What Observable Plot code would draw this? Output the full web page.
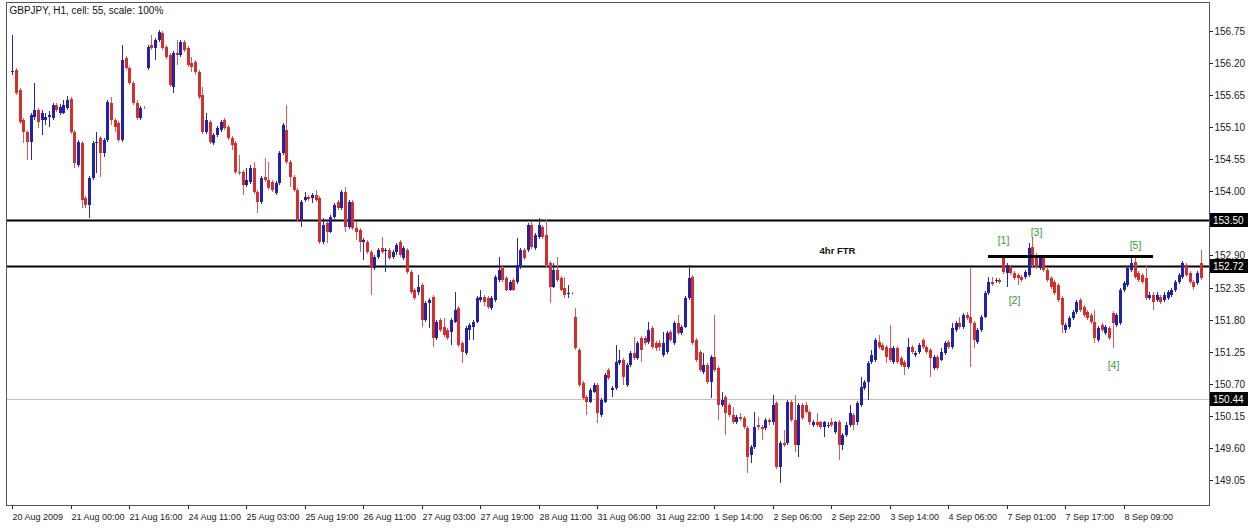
<!DOCTYPE html>
<html><head><meta charset="utf-8">
<script src="https://cdn.jsdelivr.net/npm/d3@7"></script>
<script src="https://cdn.jsdelivr.net/npm/@observablehq/plot@0.6"></script>
<style>
html,body{margin:0;padding:0;background:#fff;}
#chart svg{display:block;}
</style></head><body><div id="chart"></div>
<script>
// ---- data: hourly candles [open, high, low, close], grouped by axis-label block ----
const seg20Aug = [[156.05,156.68,156.00,156.06],[156.08,156.12,155.65,155.69],[155.74,155.77,155.16,155.19],[155.22,155.26,154.83,155.02],[155.02,155.05,154.54,154.85],[154.85,155.34,154.54,155.31],[155.28,155.86,155.22,155.40],[155.40,155.43,155.09,155.19],[155.22,155.40,154.97,155.34],[155.22,155.34,155.14,155.28],[155.28,155.38,155.10,155.31],[155.26,155.52,155.22,155.48],[155.48,155.52,155.36,155.40],[155.34,155.50,155.31,155.45],[155.34,155.57,155.33,155.48],[155.43,155.64,155.40,155.57]];
const seg21Aug00 = [[155.58,155.62,154.98,155.02],[155.02,155.05,154.40,154.49],[154.45,154.88,154.42,154.85],[154.83,154.86,153.71,153.85],[153.89,153.92,153.71,153.77],[153.77,154.26,153.54,154.23],[154.23,154.86,154.20,154.83],[154.83,155.02,154.31,154.85],[154.92,154.95,154.25,154.66],[154.66,154.92,154.59,154.88],[154.88,155.57,154.85,155.53],[155.52,155.62,155.14,155.22],[155.22,155.26,155.02,155.10],[155.17,155.21,154.85,154.88],[154.88,156.51,154.85,156.25],[156.29,156.32,156.08,156.12]];
const seg21Aug16 = [[156.12,156.15,155.82,155.86],[155.86,155.89,155.48,155.52],[155.52,155.57,155.22,155.26],[155.26,155.46,155.22,155.43],[155.45,155.47,155.42,155.44],[156.12,156.51,156.08,156.48],[156.51,156.68,156.42,156.46],[156.46,156.63,156.25,156.60],[156.60,156.77,156.56,156.73],[156.72,156.75,156.42,156.46],[156.48,156.51,156.27,156.30],[156.34,156.37,155.79,155.82],[155.79,156.41,155.69,156.37],[156.37,156.60,156.17,156.34],[156.34,156.60,156.30,156.56],[156.56,156.60,156.39,156.42]];
const seg24Aug11 = [[156.46,156.49,156.13,156.17],[156.20,156.30,156.05,156.13],[156.22,156.25,156.00,156.05],[156.05,156.08,155.58,155.62],[155.65,155.79,154.98,155.02],[155.02,155.34,154.98,155.22],[155.19,155.22,154.81,154.85],[154.83,155.00,154.80,154.97],[154.97,155.12,154.93,155.09],[155.05,155.22,155.02,155.19],[155.22,155.26,155.05,155.09],[155.10,155.14,154.88,154.92],[154.92,154.95,154.71,154.80],[154.83,154.86,154.30,154.33],[154.33,154.62,154.28,154.31],[154.33,154.37,153.94,154.11]];
const seg25Aug03 = [[154.11,154.40,154.08,154.20],[154.16,154.45,154.13,154.40],[154.40,154.50,153.95,153.99],[153.99,154.02,153.63,153.82],[153.82,154.26,153.78,154.23],[154.25,154.57,154.16,154.20],[154.20,154.50,154.02,154.06],[154.16,154.20,153.99,154.02],[153.97,154.18,153.94,154.14],[154.14,154.69,154.11,154.66],[154.66,155.17,154.62,155.14],[155.05,155.48,154.47,154.50],[154.50,154.54,154.08,154.25],[154.25,154.28,153.99,154.02],[154.02,154.06,153.47,153.51],[153.51,153.85,153.39,153.82]];
const seg25Aug19 = [[153.85,153.99,153.82,153.90],[153.90,153.94,153.83,153.87],[153.89,153.97,153.80,153.94],[153.94,154.02,153.82,153.85],[153.89,153.92,153.10,153.13],[153.13,153.54,153.10,153.42],[153.46,153.49,153.12,153.30],[153.30,153.59,153.29,153.56],[153.56,153.80,153.53,153.77],[153.82,153.85,153.68,153.71],[153.71,154.02,153.68,153.99],[153.99,154.08,153.30,153.39],[153.39,153.85,153.35,153.82],[153.82,153.85,153.34,153.37],[153.37,153.47,153.17,153.30],[153.34,153.37,152.96,153.13]];
const seg26Aug11 = [[153.13,153.20,152.82,153.17],[153.13,153.17,152.93,152.96],[152.96,152.99,152.22,152.69],[152.69,152.91,152.65,152.87],[152.87,153.03,152.84,152.99],[153.03,153.22,152.93,152.96],[152.98,153.03,152.62,152.99],[152.99,153.03,152.82,152.86],[152.87,152.99,152.84,152.96],[152.96,153.12,152.91,153.08],[153.13,153.17,152.87,152.91],[152.86,153.06,152.82,153.03],[152.99,153.03,152.58,152.62],[152.62,152.65,152.24,152.27],[152.31,152.34,152.14,152.17],[152.27,152.57,152.22,152.36]];
const seg27Aug03 = [[152.39,152.43,151.67,151.79],[151.79,152.12,151.76,152.08],[152.08,152.17,151.66,152.14],[152.19,152.22,151.33,151.49],[151.49,151.79,151.45,151.76],[151.79,151.83,151.59,151.62],[151.67,151.83,151.50,151.54],[151.62,151.66,151.45,151.49],[151.59,151.83,151.37,151.79],[151.76,152.27,151.74,151.97],[152.00,152.03,151.33,151.37],[151.40,151.43,151.06,151.25],[151.23,151.69,151.19,151.66],[151.62,151.74,151.45,151.71],[151.67,151.79,151.45,151.76],[151.76,152.20,151.74,152.17]];
const seg27Aug19 = [[152.14,152.31,152.10,152.19],[152.19,152.22,152.03,152.10],[152.17,152.20,151.98,152.02],[152.00,152.20,151.97,152.17],[152.14,152.57,152.10,152.53],[152.48,152.87,152.45,152.65],[152.69,152.72,152.45,152.48],[152.51,152.55,152.29,152.31],[152.31,152.48,152.29,152.45],[152.48,152.51,152.29,152.31],[152.45,153.20,152.41,152.74],[152.70,153.03,152.67,152.99],[152.99,153.03,152.82,152.86],[152.99,153.46,152.96,153.42],[153.42,153.49,153.01,153.05],[153.03,153.29,152.99,153.25]];
const seg28Aug11 = [[153.22,153.54,153.18,153.42],[153.39,153.42,153.18,153.22],[153.25,153.51,152.70,152.74],[152.77,152.81,152.08,152.36],[152.36,152.77,152.34,152.65],[152.65,152.87,152.45,152.48],[152.51,152.55,152.29,152.31],[152.34,152.53,152.17,152.22],[152.24,152.39,152.17,152.26],[152.26,152.28,152.23,152.25],[151.85,152.00,151.28,151.31],[151.28,151.31,150.65,150.68],[150.71,150.75,150.42,150.46],[150.47,150.51,150.16,150.39],[150.39,150.63,150.37,150.59],[150.56,150.71,150.54,150.68]];
const seg31Aug06 = [[150.68,150.71,150.03,150.20],[150.16,150.46,150.13,150.42],[150.39,150.88,150.37,150.85],[150.94,150.97,150.77,150.80],[150.59,150.66,150.47,150.63],[150.63,151.37,150.59,151.07],[151.06,151.28,151.02,151.11],[151.11,151.14,150.68,150.82],[150.68,151.06,150.65,151.02],[151.02,151.26,150.99,151.23],[151.23,151.50,151.11,151.14],[151.14,151.43,151.11,151.40],[151.49,151.52,151.07,151.28],[151.49,151.52,151.37,151.40],[151.42,151.76,151.38,151.62],[151.66,151.69,151.30,151.33]];
const seg31Aug22 = [[151.40,151.43,151.26,151.31],[151.40,151.45,151.26,151.33],[151.19,151.59,151.16,151.40],[151.25,151.61,151.21,151.57],[151.59,151.62,151.42,151.45],[151.40,151.78,151.37,151.74],[151.74,151.88,151.54,151.57],[151.57,151.71,151.54,151.67],[151.67,152.20,151.66,152.17],[152.17,152.74,152.14,152.51],[152.53,152.57,151.37,151.40],[151.45,151.49,151.07,151.11],[151.25,151.28,150.90,150.94],[150.90,151.23,150.87,151.02],[151.02,151.06,150.70,150.73],[150.73,151.19,150.46,151.16]];
const seg1Sep14 = [[151.16,151.88,150.90,150.94],[150.97,151.00,150.08,150.34],[150.34,150.56,150.30,150.42],[150.47,150.51,149.82,150.20],[150.34,150.37,150.13,150.16],[150.16,150.30,150.01,150.05],[150.05,150.16,150.01,150.13],[150.13,150.20,150.06,150.10],[150.11,150.15,149.93,149.96],[149.94,149.98,149.17,149.44],[149.48,149.65,149.34,149.62],[149.62,150.22,149.58,149.96],[149.99,150.13,149.91,149.96],[149.96,149.99,149.74,149.92],[149.94,150.11,149.91,150.08],[150.08,150.11,149.99,150.04]];
const seg2Sep06 = [[150.04,150.51,149.99,150.34],[150.37,150.41,149.24,149.27],[149.27,149.72,149.00,149.68],[149.68,149.91,149.62,149.65],[149.68,150.42,149.65,150.39],[150.39,150.42,150.05,150.08],[150.08,150.51,149.53,149.65],[149.65,150.37,149.44,150.34],[150.34,150.37,150.08,150.11],[150.34,150.39,150.18,150.22],[150.22,150.25,149.99,150.04],[149.99,150.08,149.96,150.05],[150.05,150.20,149.96,149.99],[150.04,150.06,149.92,149.96],[149.96,150.06,149.79,150.04],[149.98,150.04,149.94,149.99]];
const seg2Sep22 = [[150.04,150.11,149.96,149.99],[149.87,150.06,149.84,150.04],[150.05,150.08,149.39,149.65],[149.65,149.86,149.56,149.82],[149.82,150.04,149.79,149.99],[149.99,150.34,149.96,150.20],[150.16,150.20,149.91,149.99],[150.04,150.41,149.99,150.37],[150.34,150.82,150.30,150.65],[150.63,150.77,150.60,150.73],[150.73,151.09,150.42,151.06],[151.07,151.28,151.04,151.19],[151.11,151.49,151.07,151.45],[151.42,151.54,151.30,151.33],[151.37,151.40,151.26,151.28],[151.33,151.37,151.06,151.16]];
const seg3Sep14 = [[151.31,151.71,151.07,151.11],[151.07,151.35,151.04,151.31],[151.31,151.35,151.04,151.07],[151.14,151.18,150.99,151.02],[151.07,151.11,150.85,150.99],[150.99,151.49,150.95,151.33],[151.33,151.37,151.21,151.25],[151.19,151.26,151.16,151.23],[151.25,151.40,151.21,151.37],[151.45,151.49,151.30,151.33],[151.33,151.37,151.21,151.25],[151.28,151.31,150.82,151.14],[150.97,151.19,150.94,151.16],[151.16,151.19,150.94,150.97],[151.11,151.31,151.09,151.25],[151.23,151.43,151.19,151.40]];
const seg4Sep06 = [[151.42,151.45,151.30,151.33],[151.33,151.74,151.30,151.66],[151.62,151.78,151.59,151.74],[151.74,151.85,151.64,151.67],[151.67,151.92,151.64,151.88],[151.88,151.93,151.79,151.83],[151.85,152.69,150.99,151.74],[151.74,151.78,151.31,151.45],[151.42,151.66,151.38,151.62],[151.62,151.88,151.59,151.85],[151.85,152.29,151.82,152.26],[152.26,152.53,152.22,152.45],[152.45,152.53,152.38,152.41],[152.46,152.51,152.43,152.48],[152.48,152.51,152.41,152.45],[152.86,152.91,152.58,152.62]];
const seg7Sep01 = [[152.60,152.77,152.36,152.74],[152.70,152.74,152.57,152.60],[152.60,152.63,152.48,152.51],[152.57,152.60,152.39,152.51],[152.53,152.57,152.45,152.48],[152.53,152.65,152.50,152.62],[152.57,153.12,152.53,153.03],[153.05,153.20,152.70,152.74],[152.91,152.94,152.67,152.70],[152.69,152.91,152.65,152.87],[152.87,152.91,152.62,152.65],[152.65,152.69,152.45,152.48],[152.51,152.55,152.33,152.36],[152.45,152.48,152.22,152.26],[152.39,152.43,152.10,152.14],[152.17,152.20,151.57,151.71]];
const seg7Sep17 = [[151.62,151.74,151.57,151.71],[151.67,151.86,151.64,151.83],[151.83,151.97,151.79,151.93],[151.93,152.14,151.90,152.10],[152.14,152.17,151.93,151.97],[152.02,152.05,151.85,151.88],[151.93,151.97,151.79,151.83],[151.88,151.92,151.73,151.76],[151.76,151.97,151.40,151.49],[151.45,151.69,151.42,151.66],[151.71,151.74,151.59,151.62],[151.57,151.71,151.54,151.67],[151.66,151.69,151.45,151.49],[151.91,151.95,151.31,151.74],[151.71,151.92,151.67,151.88],[151.74,152.34,151.71,152.31]];
const seg8Sep09 = [[152.31,152.46,152.27,152.43],[152.39,152.72,152.36,152.69],[152.65,152.86,152.62,152.77],[152.79,152.87,152.50,152.53],[152.60,152.63,152.45,152.48],[152.57,152.60,152.41,152.45],[152.51,152.74,152.14,152.17],[152.17,152.27,152.14,152.22],[152.22,152.27,151.97,152.10],[152.14,152.27,152.10,152.22],[152.19,152.22,152.07,152.10],[152.14,152.27,152.10,152.22],[152.17,152.31,152.14,152.27],[152.22,152.34,152.19,152.31],[152.31,152.48,152.27,152.45],[152.45,152.60,152.41,152.57]];
const segLast = [[152.53,152.81,152.50,152.77],[152.74,152.77,152.53,152.57],[152.60,152.63,152.41,152.45],[152.45,152.48,152.31,152.36],[152.43,152.63,152.39,152.60],[152.77,152.99,152.48,152.51]];

const timeLabels = ["20 Aug 2009","21 Aug 00:00","21 Aug 16:00","24 Aug 11:00","25 Aug 03:00","25 Aug 19:00","26 Aug 11:00","27 Aug 03:00","27 Aug 19:00","28 Aug 11:00","31 Aug 06:00","31 Aug 22:00","1 Sep 14:00","2 Sep 06:00","2 Sep 22:00","3 Sep 14:00","4 Sep 06:00","7 Sep 01:00","7 Sep 17:00","8 Sep 09:00"];
const barsPerLabel = 16;
const priceTicks = [156.75,156.20,155.65,155.10,154.55,154.00,152.90,152.35,151.80,151.25,150.70,150.15,149.60,149.05];
const levelLines = [153.50, 152.72];
const bidPrice = 150.44;
const boxedPrices = [153.50, 152.72, 150.44];
const ftrPrice = 152.89, ftrFromBar = 267, ftrToBar = 312;
const noteText = "4hr FTR", noteBar = 225.6, notePrice = 152.99;
const waveLabels = ["[1]","[2]","[3]","[4]","[5]"];
const waveBars = [271, 274, 280, 301, 307];
const wavePrices = [153.17, 152.14, 153.30, 151.02, 153.08];
const titleText = "GBPJPY, H1, cell: 55, scale: 100%";

// ---- build ----
const candles = [seg20Aug,seg21Aug00,seg21Aug16,seg24Aug11,seg25Aug03,seg25Aug19,seg26Aug11,seg27Aug03,seg27Aug19,seg28Aug11,seg31Aug06,seg31Aug22,seg1Sep14,seg2Sep06,seg2Sep22,seg3Sep14,seg4Sep06,seg7Sep01,seg7Sep17,seg8Sep09,segLast]
  .flat().map((d, i) => ({i, open: d[0], high: d[1], low: d[2], close: d[3]}));
const labelBars = timeLabels.map((_, k) => k * barsPerLabel - 0.5);

const BULL = "#2222a6", BEAR = "#d22f2f", BEAR_WICK = "#db5a5a", BULL_WICK = "#2a2aa8";
const font = "'Liberation Sans', Arial, sans-serif";

const chart = Plot.plot({
  width: 1249, height: 531,
  marginLeft: 6, marginRight: 40, marginTop: 2, marginBottom: 26,
  style: {fontFamily: font, background: "#fff", overflow: "visible"},
  x: {domain: [-1.72, 327.32], round: true, axis: null},
  y: {domain: [148.62, 157.247], round: true, axis: null},
  marks: [
    Plot.ruleY([bidPrice], {stroke: "#c4c4c4", strokeWidth: 1}),
    Plot.ruleY(levelLines, {stroke: "#000", strokeWidth: 2}),
    Plot.ruleX(candles, {x: "i", y1: "low", y2: "high", strokeWidth: 1,
      stroke: d => d.close >= d.open ? BULL_WICK : BEAR_WICK}),
    Plot.ruleX(candles, {x: "i", y1: "open", y2: "close", strokeWidth: 3,
      stroke: d => d.close >= d.open ? BULL : BEAR}),
    Plot.ruleY([{p: ftrPrice, a: ftrFromBar, b: ftrToBar}], {y: "p", x1: "a", x2: "b", stroke: "#000", strokeWidth: 3}),
    Plot.text([noteText], {x: noteBar, y: notePrice, text: d => d, fontWeight: "bold", fontSize: 9.5, fill: "#111"}),
    Plot.text(waveLabels, {x: (d, i) => waveBars[i], y: (d, i) => wavePrices[i], text: d => d, fill: "#3c9a3c", fontSize: 10.5}),
    Plot.text([titleText], {frameAnchor: "top-left", dx: 3, dy: 4, lineAnchor: "top", textAnchor: "start", text: d => d, fontSize: 10, fill: "#111"}),
    Plot.axisY(priceTicks, {anchor: "right", tickSize: 3, tickPadding: 2, tickFormat: d => d.toFixed(2), fontSize: 10, color: "#222"}),
    Plot.axisX(labelBars, {anchor: "bottom", tickSize: 4, tickPadding: 4, textAnchor: "start", dx: 2, fontSize: 9, color: "#222",
      tickFormat: (d, i) => timeLabels[i]}),
    Plot.frame({stroke: "#555", strokeWidth: 1})
  ]
});

// boxed price labels on the right axis, positioned with the plot's own y scale
const ys = chart.scale("y");
const svg = d3.select(chart);
const W = 1249 - 40;
boxedPrices.forEach(p => {
  const yy = Math.round(ys.apply(p));
  const g = svg.append("g").attr("transform", `translate(${W + 1},${yy})`);
  g.append("rect").attr("x", 0).attr("y", -7).attr("width", 38).attr("height", 14).attr("fill", "#000");
  g.append("text").attr("x", 3).attr("y", 0).attr("dy", "0.35em").attr("fill", "#fff")
    .attr("text-anchor", "start").attr("font-size", 10).attr("font-family", font).text(p.toFixed(2));
});

document.getElementById("chart").appendChild(chart);
</script>
</body></html>
